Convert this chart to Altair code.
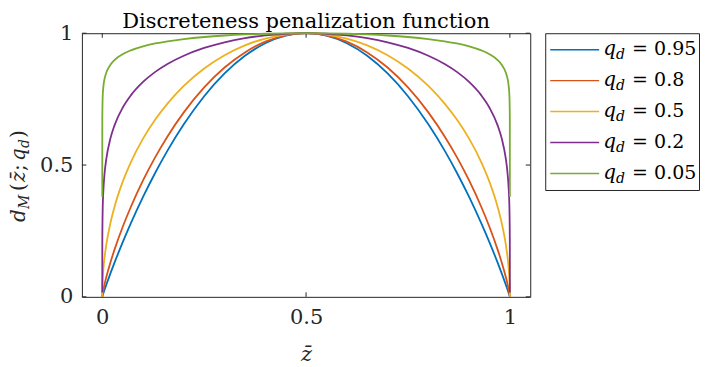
import altair as alt
import pandas as pd

# ---- data ----
Z = [0, 0.0001, 0.001, 0.003, 0.006, 0.01, 0.02, 0.03, 0.05, 0.07, 0.1, 0.13, 0.16,
     0.2, 0.25, 0.3, 0.35, 0.4, 0.45, 0.5, 0.55, 0.6, 0.65, 0.7, 0.75, 0.8, 0.84,
     0.87, 0.9, 0.93, 0.95, 0.97, 0.98, 0.99, 0.994, 0.997, 0.999, 0.9999, 1]

Y_095 = [0, 0.0006, 0.0053, 0.0149, 0.0288, 0.0465, 0.0891, 0.1296, 0.2065, 0.2785,
         0.3789, 0.4707, 0.5545, 0.6544, 0.7609, 0.8473, 0.9143, 0.962, 0.9905, 1,
         0.9905, 0.962, 0.9143, 0.8473, 0.7609, 0.6544, 0.5545, 0.4707, 0.3789, 0.2785,
         0.2065, 0.1296, 0.0891, 0.0465, 0.0288, 0.0149, 0.0053, 0.0006, 0]
Y_08 = [0, 0.0019, 0.0121, 0.029, 0.0503, 0.0755, 0.1305, 0.179, 0.2649, 0.3408,
        0.4416, 0.5302, 0.6086, 0.6998, 0.7944, 0.8698, 0.9273, 0.9679, 0.992, 1,
        0.992, 0.9679, 0.9273, 0.8698, 0.7944, 0.6998, 0.6086, 0.5302, 0.4416, 0.3408,
        0.2649, 0.179, 0.1305, 0.0755, 0.0503, 0.029, 0.0121, 0.0019, 0]
Y_05 = [0, 0.02, 0.0632, 0.1094, 0.1545, 0.199, 0.28, 0.3412, 0.4359, 0.5103,
        0.6, 0.6726, 0.7332, 0.8, 0.866, 0.9165, 0.9539, 0.9798, 0.995, 1,
        0.995, 0.9798, 0.9539, 0.9165, 0.866, 0.8, 0.7332, 0.6726, 0.6, 0.5103,
        0.4359, 0.3412, 0.28, 0.199, 0.1545, 0.1094, 0.0632, 0.02, 0]
Y_02 = [0.016, 0.2091, 0.3314, 0.4126, 0.4737, 0.5243, 0.601, 0.6504, 0.7174, 0.7641,
        0.8152, 0.8533, 0.8833, 0.9146, 0.9441, 0.9657, 0.9813, 0.9919, 0.998, 1,
        0.998, 0.9919, 0.9813, 0.9657, 0.9441, 0.9146, 0.8833, 0.8533, 0.8152, 0.7641,
        0.7174, 0.6504, 0.601, 0.5243, 0.4737, 0.4126, 0.3314, 0.2091, 0.016]
Y_005 = [0.38, 0.6762, 0.7587, 0.8015, 0.8296, 0.851, 0.8805, 0.8981, 0.9203, 0.9349,
         0.9502, 0.9611, 0.9694, 0.9779, 0.9857, 0.9913, 0.9953, 0.998, 0.9995, 1,
         0.9995, 0.998, 0.9953, 0.9913, 0.9857, 0.9779, 0.9694, 0.9611, 0.9502, 0.9349,
         0.9203, 0.8981, 0.8805, 0.851, 0.8296, 0.8015, 0.7587, 0.6762, 0.38]

Q_LABELS = ["0.95", "0.8", "0.5", "0.2", "0.05"]
SERIES = [Y_095, Y_08, Y_05, Y_02, Y_005]
COLORS = ["#0072BD", "#D95319", "#EDB120", "#7E2F8E", "#77AC30"]

X_TICKS = [0, 0.5, 1]
Y_TICKS = [0, 0.5, 1]
X_DOMAIN = [-0.05, 1.05]
Y_DOMAIN = [0, 1]

FONT = "DejaVu Serif"
AX = "#262626"
W, H = 449, 264
TICK_PX = 4.5

rows = []
for lab, ys in zip(Q_LABELS, SERIES):
    for z, y in zip(Z, ys):
        rows.append({"z": z, "d": y, "q": lab})
df = pd.DataFrame(rows)

xscale = alt.Scale(domain=X_DOMAIN, nice=False, zero=False)
yscale = alt.Scale(domain=Y_DOMAIN, nice=False, zero=False)

x_axis = alt.Axis(values=X_TICKS, format="~g", ticks=False, domain=False, grid=False,
                  labelFont=FONT, labelFontSize=21, labelPadding=10, labelColor=AX,
                  labelFlush=False,
                  title="z\u0304", titleFont=FONT, titleFontStyle="italic",
                  titleFontWeight="normal", titleFontSize=21, titleColor=AX,
                  titlePadding=16)
y_axis = alt.Axis(values=Y_TICKS, format="~g", ticks=False, domain=False, grid=False,
                  labelFont=FONT, labelFontSize=21, labelPadding=9, labelColor=AX,
                  labelFlush=False, title=None)

layers = []
for lab, col in zip(Q_LABELS, COLORS):
    layers.append(
        alt.Chart(df).transform_filter(alt.datum.q == lab)
        .mark_line(color=col, strokeWidth=1.8, interpolate="monotone")
        .encode(x=alt.X("z:Q", scale=xscale, axis=x_axis),
                y=alt.Y("d:Q", scale=yscale, axis=y_axis))
    )

# inward tick marks (MATLAB style), from tick value lists
tx = (X_DOMAIN[1] - X_DOMAIN[0]) * TICK_PX / W
ty = (Y_DOMAIN[1] - Y_DOMAIN[0]) * TICK_PX / H
xt_rows = []
for v in X_TICKS:
    xt_rows.append({"x": v, "y": Y_DOMAIN[0], "y2": Y_DOMAIN[0] + ty})
    xt_rows.append({"x": v, "y": Y_DOMAIN[1], "y2": Y_DOMAIN[1] - ty})
yt_rows = []
for v in Y_TICKS:
    yt_rows.append({"y": v, "x": X_DOMAIN[0], "x2": X_DOMAIN[0] + tx})
    yt_rows.append({"y": v, "x": X_DOMAIN[1], "x2": X_DOMAIN[1] - tx})

xticks = alt.Chart(pd.DataFrame(xt_rows)).mark_rule(color=AX, strokeWidth=1).encode(
    x=alt.X("x:Q", scale=xscale, axis=x_axis),
    y=alt.Y("y:Q", scale=yscale, axis=y_axis), y2="y2:Q")
yticks = alt.Chart(pd.DataFrame(yt_rows)).mark_rule(color=AX, strokeWidth=1).encode(
    x=alt.X("x:Q", scale=xscale, axis=x_axis), x2="x2:Q",
    y=alt.Y("y:Q", scale=yscale, axis=y_axis))

# y-axis title pieces: d_M ( z̄ ; q_d )
YT = [  # text, size, italic, baseline-x offset, start-y (px from view top)
    ("d", 20, True, -57, 189),
    ("M", 14, True, -53, 176),
    ("(", 20, False, -57, 158),
    ("z\u0304", 20, True, -57, 149),
    (";", 20, False, -57, 138),
    ("q", 20, True, -57, 128),
    ("d", 14, True, -53, 115),
    (")", 20, False, -57, 105),
]
title_layers = []
for t, s, it, bx, sy in YT:
    title_layers.append(
        alt.Chart(pd.DataFrame({"t": [t]})).mark_text(
            font=FONT, fontSize=s, fontStyle="italic" if it else "normal",
            angle=270, align="left", baseline="alphabetic", color=AX
        ).encode(x=alt.value(bx), y=alt.value(sy), text="t:N")
    )

main = alt.layer(xticks, yticks, *layers, *title_layers).properties(
    width=W, height=H,
    title=alt.TitleParams("Discreteness penalization function", font=FONT, fontSize=21,
                          fontWeight="normal", color="#000", anchor="middle",
                          frame="group", offset=-10)
)

# legend panel
LEG_W, LEG_H = 154, 157
leg_df = pd.DataFrame({"q": Q_LABELS})
yleg = alt.Y("q:N", scale=alt.Scale(type="point", domain=Q_LABELS, padding=0.53), axis=None)
leg_base = alt.Chart(leg_df)
leg_rule = leg_base.mark_rule(strokeWidth=1.5).encode(
    x=alt.value(5), x2=alt.value(54), y=yleg,
    color=alt.Color("q:N", scale=alt.Scale(domain=Q_LABELS, range=COLORS), legend=None))
leg_q = leg_base.mark_text(font=FONT, fontSize=20, fontStyle="italic", align="left",
                           baseline="alphabetic", dy=5, color="#000").encode(
    x=alt.value(58), y=yleg, text=alt.value("q"))
leg_d = leg_base.mark_text(font=FONT, fontSize=14, fontStyle="italic", align="left",
                           baseline="alphabetic", dy=9, color="#000").encode(
    x=alt.value(71), y=yleg, text=alt.value("d"))
leg_eq = leg_base.mark_text(font=FONT, fontSize=19, align="left",
                            baseline="alphabetic", dy=5, color="#000").encode(
    x=alt.value(87), y=yleg, text=alt.value("="))
leg_num = leg_base.mark_text(font=FONT, fontSize=19, align="left",
                             baseline="alphabetic", dy=5, color="#000").encode(
    x=alt.value(109), y=yleg, text="q:N")
legend = alt.layer(leg_rule, leg_q, leg_d, leg_eq, leg_num).properties(width=LEG_W, height=LEG_H)

chart = alt.hconcat(main, legend, spacing=15, bounds="flush").configure_view(
    stroke=AX, strokeWidth=1
).properties(
    background="white",
    padding={"left": 0, "top": 2, "right": 0, "bottom": 0},
)

chart.save("out.html", embed_options={"renderer": "svg", "actions": False})
